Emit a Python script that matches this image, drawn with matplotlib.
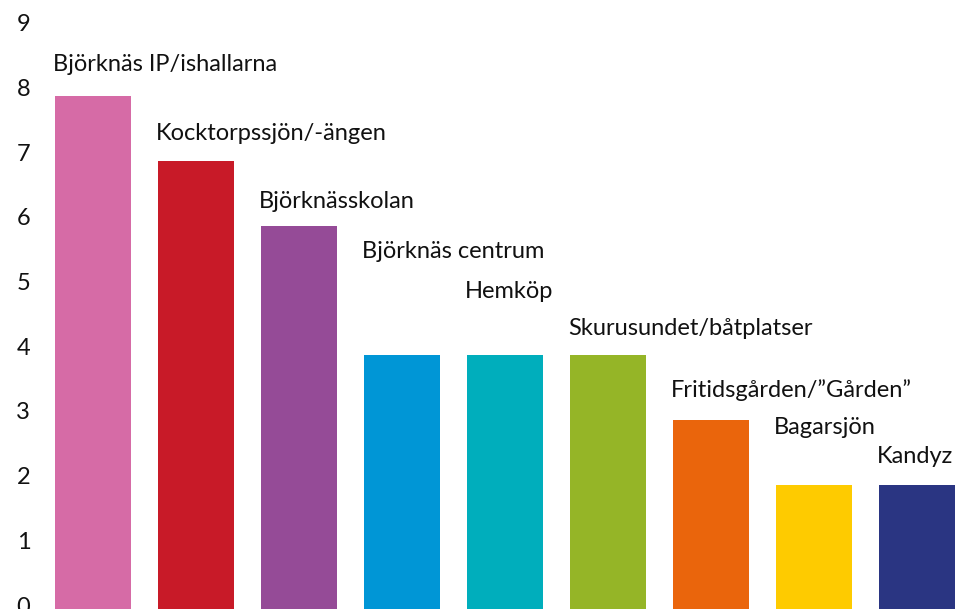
import matplotlib
matplotlib.use('Agg')
import matplotlib.pyplot as plt
import matplotlib.transforms as mtransforms

# data
places = ['Björknäs IP/ishallarna', 'Kocktorpssjön/-ängen', 'Björknässkolan',
          'Björknäs centrum', 'Hemköp', 'Skurusundet/båtplatser',
          'Fritidsgården/\u201dGården\u201d', 'Bagarsjön', 'Kandyz']
counts = [8, 7, 6, 4, 4, 4, 3, 2, 2]
yticks = list(range(10))

# layout / style
colors = ['#D66BA6', '#C81A28', '#954B97', '#0096D6', '#00AEBC',
          '#95B527', '#EA650C', '#FECB00', '#2A3582']
label_heights = [8.49, 7.42, 6.37, 5.60, 4.99, 4.42, 3.46, 2.89, 2.43]
bar_w = 0.74
txt_c = '#111111'
font = 'Lato'

W, H = 957, 609
fig = plt.figure(figsize=(W / 100, H / 100), dpi=100)
# axes stretch a little below the figure so the bars run off the bottom edge
ax = fig.add_axes([40 / W, -5 / H, 917 / W, 614 / H])

xs = list(range(len(places)))
ax.bar(xs, counts, width=bar_w, color=colors, linewidth=0)

for x, name, h in zip(xs, places, label_heights):
    ax.text(x - bar_w / 2 - 0.02, h, name, ha='left', va='center',
            fontsize=17, family=font, color=txt_c)

ax.set_xlim(-0.515, 8.388)
ax.set_ylim(0, 614 / 64.7)
ax.set_yticks(yticks)
ax.set_yticklabels([str(t) for t in yticks], fontsize=17, family=font, color=txt_c)
ax.tick_params(axis='y', length=0, pad=7)
ax.set_xticks([])

# tick labels sit slightly above the true gridline position in the original
offset = mtransforms.ScaledTranslation(0, 9 / 100, fig.dpi_scale_trans)
for lab in ax.get_yticklabels():
    lab.set_transform(lab.get_transform() + offset)

for s in ax.spines.values():
    s.set_visible(False)

fig.savefig('out.png', dpi=100)
